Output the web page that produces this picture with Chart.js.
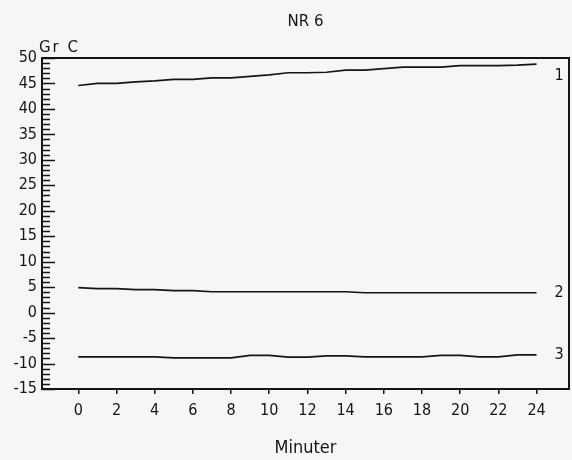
<!DOCTYPE html>
<html>
<head>
<meta charset="utf-8">
<script src="https://cdn.jsdelivr.net/npm/chart.js@4"></script>
<style>
  html, body { margin: 0; padding: 0; background: #f6f6f4; }
</style>
</head>
<body>
<canvas id="chart" width="572" height="460"></canvas>
<script>
// readings every minute
const minutes = [0, 1, 2, 3, 4, 5, 6, 7, 8, 9, 10, 11, 12, 13, 14, 15, 16, 17, 18, 19, 20, 21, 22, 23, 24];
const temp1 = [44.6, 45.0, 45.0, 45.3, 45.5, 45.8, 45.8, 46.1, 46.1, 46.4, 46.7, 47.1, 47.1, 47.2, 47.6, 47.6, 47.9, 48.2, 48.2, 48.2, 48.5, 48.5, 48.5, 48.6, 48.8];
const temp2 = [4.9, 4.7, 4.7, 4.5, 4.5, 4.3, 4.3, 4.1, 4.1, 4.1, 4.1, 4.1, 4.1, 4.1, 4.1, 3.9, 3.9, 3.9, 3.9, 3.9, 3.9, 3.9, 3.9, 3.9, 3.9];
const temp3 = [-8.7, -8.7, -8.7, -8.7, -8.7, -8.9, -8.9, -8.9, -8.9, -8.4, -8.4, -8.75, -8.75, -8.5, -8.5, -8.7, -8.7, -8.7, -8.7, -8.4, -8.4, -8.7, -8.7, -8.3, -8.3];
const seriesNames = ['1', '2', '3'];
const xTicks = [0, 2, 4, 6, 8, 10, 12, 14, 16, 18, 20, 22, 24];
const yMin = -15, yMax = 50;

const FONT = '"DejaVu Sans Condensed", "Liberation Sans Narrow", "DejaVu Sans", sans-serif';
const WIDE = '"DejaVu Sans", sans-serif';
const INK = '#151515';

function toPoints(values) {
    return values.map((v, i) => ({ x: minutes[i], y: v }));
}

// frame, inward y ticks, unit label and curve numbers
const plotterMarks = {
    id: 'plotterMarks',
    afterDraw(chart) {
        const { ctx, chartArea: a, scales: { y } } = chart;
        ctx.save();
        ctx.strokeStyle = INK;
        ctx.lineWidth = 1.5;
        ctx.beginPath();
        for (let v = yMin; v <= yMax; v++) {
            const py = Math.round(y.getPixelForValue(v)) + 0.5;
            const len = v % 5 === 0 ? 13 : 8;
            ctx.moveTo(a.left, py);
            ctx.lineTo(a.left + len, py);
        }
        ctx.stroke();

        ctx.lineWidth = 2;
        ctx.strokeRect(a.left, a.top, a.width, a.height);

        ctx.fillStyle = INK;
        ctx.font = '15px ' + WIDE;
        ctx.letterSpacing = '2px';
        ctx.textAlign = 'left';
        ctx.textBaseline = 'bottom';
        ctx.fillText('Gr C', a.left - 3, a.top - 2);
        ctx.letterSpacing = '0px';

        ctx.font = '16px ' + FONT;
        ctx.textBaseline = 'middle';
        chart.data.datasets.forEach((ds, i) => {
            const pts = chart.getDatasetMeta(i).data;
            const last = pts[pts.length - 1];
            const py = Math.max(last.y, a.top + 18);
            ctx.fillText(ds.label, last.x + 18, py);
        });
        ctx.restore();
    }
};

const lineStyle = {
    borderColor: INK,
    borderWidth: 1.7,
    pointRadius: 0,
    tension: 0,
    fill: false
};

new Chart(document.getElementById('chart'), {
    type: 'line',
    data: {
        datasets: [
            { label: seriesNames[0], data: toPoints(temp1), ...lineStyle },
            { label: seriesNames[1], data: toPoints(temp2), ...lineStyle },
            { label: seriesNames[2], data: toPoints(temp3), ...lineStyle }
        ]
    },
    options: {
        responsive: false,
        animation: false,
        layout: { padding: { left: 0, right: 3, top: 0, bottom: 0 } },
        plugins: {
            legend: { display: false },
            tooltip: { enabled: false },
            title: {
                display: true,
                text: 'NR 6',
                fullSize: false,
                color: INK,
                font: { family: WIDE, size: 15, weight: 'normal' },
                padding: { top: 13, bottom: 27 }
            }
        },
        scales: {
            x: {
                type: 'linear',
                min: -1.9,
                max: 25.7,
                afterBuildTicks: (scale) => { scale.ticks = xTicks.map(v => ({ value: v })); },
                afterFit: (scale) => { scale.height = 71; },
                grid: { display: true, drawOnChartArea: false, drawTicks: true, tickLength: 5, color: INK, lineWidth: 1.5 },
                border: { display: false },
                ticks: {
                    color: INK,
                    padding: 7,
                    maxRotation: 0,
                    font: { family: FONT, size: 16 }
                },
                title: {
                    display: true,
                    text: 'Minuter',
                    color: INK,
                    font: { family: FONT, size: 18 },
                    padding: { top: 0, bottom: 0.5 }
                }
            },
            y: {
                min: yMin,
                max: yMax,
                afterFit: (scale) => { scale.width = 42; },
                grid: { display: false, drawTicks: false },
                border: { display: false },
                ticks: {
                    stepSize: 5,
                    color: INK,
                    padding: 5,
                    font: { family: FONT, size: 16 }
                }
            }
        }
    },
    plugins: [plotterMarks]
});
</script>
</body>
</html>
